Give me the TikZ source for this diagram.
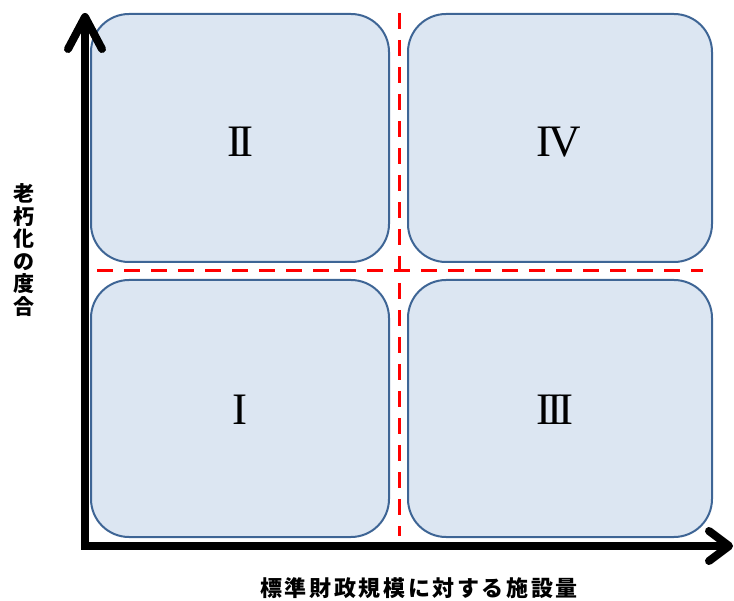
\documentclass[tikz,border=0pt]{standalone}
\usepackage{fontspec}
\setmainfont{Liberation Serif}
\newfontfamily\cjkv{Noto Sans CJK JP}
\newfontfamily\cjkh{Noto Sans CJK JP}[LetterSpace=12]
\definecolor{boxfill}{HTML}{DCE6F2}
\definecolor{boxline}{HTML}{3E6595}
\definecolor{divred}{HTML}{FF0000}
\tikzset{
  quad/.style={draw=boxline, fill=boxfill, line width=2pt, rounded corners=38pt, inner sep=0pt},
  numeral/.style={font=\fontsize{45}{45}\selectfont, inner sep=0pt},
  axisline/.style={line width=8pt, black},
  axistip/.style={line width=8pt, black, line cap=round, line join=round},
  divider/.style={divred, line width=3pt, dash pattern=on 16pt off 11pt},
  axislabel/.style={inner sep=0pt, font=\bfseries}
}
\begin{document}
\begin{tikzpicture}[x=1pt, y=-1pt]
\useasboundingbox (0,0) rectangle (734,601);
% quadrant boxes
\node[quad, minimum width=298pt, minimum height=248pt] (q2) at (240,138) {};
\node[quad, minimum width=304pt, minimum height=248pt] (q4) at (560,138) {};
\node[quad, minimum width=298pt, minimum height=257pt] (q1) at (240,408.5) {};
\node[quad, minimum width=304pt, minimum height=257pt] (q3) at (560,408.5) {};
% numerals
\node[numeral] (n2) at (240,142) {I\kern-4pt I};
\node[numeral] (n4) at (559,142) {I\kern-3pt V};
\node[numeral] (n1) at (240,410) {I};
\node[numeral] (n3) at (555,410) {I\kern-4pt I\kern-4pt I};
% dividers
\coordinate (vt) at (399,13);
\coordinate (vb) at (399,536);
\coordinate (hl) at (97,271);
\coordinate (hr) at (703,271);
\draw[divider] (vt) -- (vb);
\draw[divider] (hl) -- (hr);
% axes
\coordinate (ytop) at (85,20);
\coordinate (origin) at (85,546);
\coordinate (xend) at (727,546);
\draw[axisline] (ytop) -- (origin) -- (xend);
\coordinate (yapex) at (85,17);
\coordinate (xapex) at (729,546);
\draw[axistip] (68,49) -- (yapex) -- (102,49);
\draw[axistip] (709,531) -- (xapex) -- (709,561);
% axis labels
\node[axislabel, align=center, font=\cjkv\bfseries\fontsize{21}{22.5}\selectfont] (ylab) at (24,250) {老\\朽\\化\\の\\度\\合};
\node[axislabel, font=\cjkh\bfseries\fontsize{22}{22}\selectfont] (xlab) at (419,588) {標準財政規模に対する施設量};
\end{tikzpicture}
\end{document}
